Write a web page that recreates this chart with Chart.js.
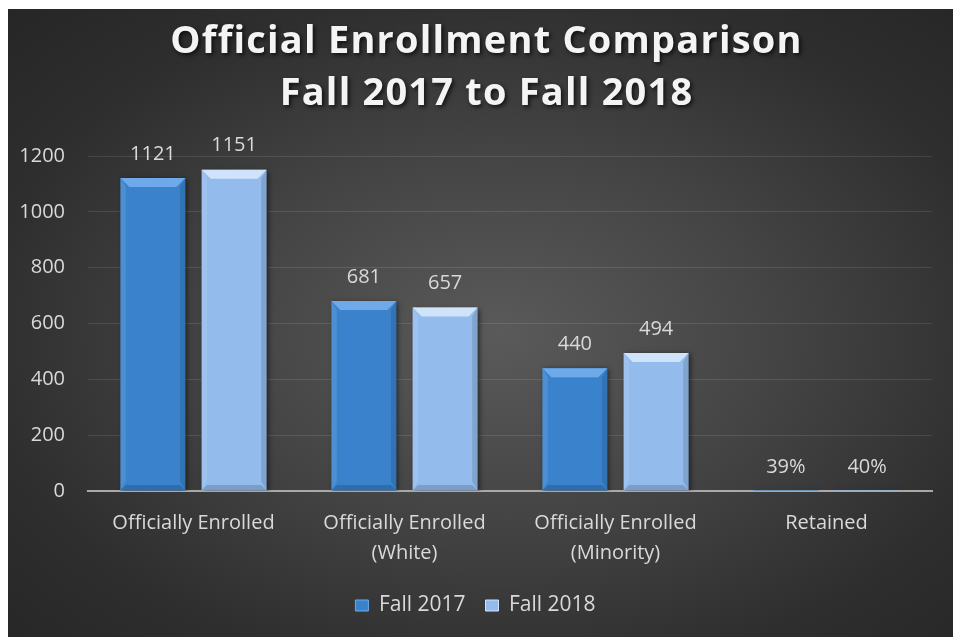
<!DOCTYPE html>
<html>
<head>
<meta charset="utf-8">
<title>Official Enrollment Comparison</title>
<script src="https://cdn.jsdelivr.net/npm/chart.js@4.4.1/dist/chart.umd.min.js"></script>
<style>
  html, body { margin: 0; padding: 0; background: #ffffff; }
  #card {
    position: absolute;
    left: 8px;
    top: 9px;
    width: 945px;
    height: 628px;
    background: radial-gradient(ellipse farthest-corner at 52% 52%, #5a5a5a 0%, #444444 40%, #2e2e2e 75%, #262626 100%);
  }
</style>
</head>
<body>
<div id="card"><canvas id="enrollment"></canvas></div>
<script>
// Chart data
const categories = ['Officially Enrolled', ['Officially Enrolled', '(White)'], ['Officially Enrolled', '(Minority)'], 'Retained'];
const fall2017 = [1121, 681, 440, 0.39];
const fall2018 = [1151, 657, 494, 0.40];
const percentCategories = [3]; // shown as percentages
const titleLines = ['Official Enrollment Comparison', 'Fall 2017 to Fall 2018'];
const yMax = 1200;
const yStep = 200;

const FONT = "'Open Sans', 'DejaVu Sans', sans-serif";
const TEXT = '#d9d9d9';

const formatValue = (value, index) => (percentCategories.includes(index)
  ? `${Math.round(value * 100)}%`
  : `${value}`);

// Title with a soft drop shadow
const titlePlugin = {
  id: 'shadowTitle',
  beforeDraw(chart) {
    const { ctx, width } = chart;
    ctx.save();
    ctx.font = `bold 38px ${FONT}`;
    ctx.letterSpacing = '1.2px';
    ctx.fillStyle = '#f4f4f4';
    ctx.textAlign = 'center';
    ctx.textBaseline = 'middle';
    ctx.shadowColor = 'rgba(0,0,0,0.7)';
    ctx.shadowBlur = 4;
    ctx.shadowOffsetX = 2;
    ctx.shadowOffsetY = 2;
    titleLines.forEach((line, i) => {
      ctx.fillText(line, width / 2 + 6, 33 + i * 52);
    });
    ctx.restore();
  },
};

// Bevelled bars, drop shadow and value labels
const bevelPlugin = {
  id: 'bevelBars',
  beforeDatasetsDraw(chart) {
    const { ctx } = chart;
    ctx.save();
    ctx.shadowColor = 'rgba(0,0,0,0.55)';
    ctx.shadowBlur = 5;
    ctx.shadowOffsetX = 2;
    ctx.shadowOffsetY = 1;
  },
  afterDatasetsDraw(chart) {
    const { ctx } = chart;
    ctx.restore();
    chart.data.datasets.forEach((ds, di) => {
      const meta = chart.getDatasetMeta(di);
      meta.data.forEach((bar, i) => {
        const { x, y, base, width } = bar.getProps(['x', 'y', 'base', 'width'], true);
        const l = x - width / 2;
        const r = x + width / 2;
        const h = base - y;
        const b = Math.min(9, h / 2);
        if (b > 0.5) {
          // top face
          ctx.fillStyle = ds.bevelTop;
          ctx.beginPath();
          ctx.moveTo(l, y); ctx.lineTo(r, y); ctx.lineTo(r - b, y + b); ctx.lineTo(l + b, y + b);
          ctx.closePath(); ctx.fill();
          // left face
          ctx.fillStyle = 'rgba(255,255,255,0.10)';
          ctx.beginPath();
          ctx.moveTo(l, y); ctx.lineTo(l + b * 0.6, y + b); ctx.lineTo(l + b * 0.6, base - b); ctx.lineTo(l, base);
          ctx.closePath(); ctx.fill();
          // right face
          ctx.fillStyle = 'rgba(0,0,0,0.12)';
          ctx.beginPath();
          ctx.moveTo(r, y); ctx.lineTo(r - b * 0.6, y + b); ctx.lineTo(r - b * 0.6, base - b); ctx.lineTo(r, base);
          ctx.closePath(); ctx.fill();
          // bottom face
          ctx.fillStyle = 'rgba(0,0,0,0.16)';
          ctx.beginPath();
          ctx.moveTo(l, base); ctx.lineTo(r, base); ctx.lineTo(r - b * 0.6, base - b * 0.6); ctx.lineTo(l + b * 0.6, base - b * 0.6);
          ctx.closePath(); ctx.fill();
        }
        // value label
        ctx.save();
        ctx.font = `20px ${FONT}`;
        ctx.fillStyle = TEXT;
        ctx.textAlign = 'center';
        ctx.textBaseline = 'middle';
        ctx.fillText(formatValue(ds.data[i], i), x, y - 24);
        ctx.restore();
      });
    });
  },
};

const ctx = document.getElementById('enrollment');
// eslint-disable-next-line no-unused-vars
const chart = new Chart(ctx, {
  type: 'bar',
  data: {
    labels: categories,
    datasets: [
      {
        label: 'Fall 2017',
        data: fall2017,
        backgroundColor: '#3a83cc',
        bevelTop: '#6eaaea',
        barPercentage: 0.8,
        categoryPercentage: 0.77,
      },
      {
        label: 'Fall 2018',
        data: fall2018,
        backgroundColor: '#93bbec',
        bevelTop: '#cfe3fb',
        barPercentage: 0.8,
        categoryPercentage: 0.77,
      },
    ],
  },
  options: {
    responsive: true,
    maintainAspectRatio: false,
    animation: false,
    layout: {
      padding: { top: 147, left: 11, right: 21, bottom: 11 },
    },
    scales: {
      y: {
        min: 0,
        max: yMax,
        border: { display: false },
        grid: {
          drawTicks: false,
          color: (c) => (c.tick && c.tick.value === 0 ? 'rgba(0,0,0,0)' : 'rgba(255,255,255,0.11)'),
          lineWidth: 1,
        },
        ticks: {
          stepSize: yStep,
          padding: 23,
          color: TEXT,
          font: { family: FONT, size: 20 },
          callback: (value) => `${value}`,
        },
        afterFit: (scale) => { scale.width = 69; },
      },
      x: {
        grid: { display: false, drawTicks: false },
        border: { display: true, color: '#a9a9a9', width: 2 },
        ticks: {
          padding: 17,
          color: TEXT,
          maxRotation: 0,
          autoSkip: false,
          font: { family: FONT, size: 20, lineHeight: 1.5 },
        },
        afterFit: (scale) => { scale.height = 84; },
      },
    },
    plugins: {
      legend: {
        position: 'bottom',
        labels: {
          color: TEXT,
          boxWidth: 13,
          boxHeight: 11,
          padding: 20,
          font: { family: FONT, size: 21 },
          generateLabels: (c) => c.data.datasets.map((ds, i) => ({
            text: ds.label,
            fillStyle: ds.backgroundColor,
            strokeStyle: ds.bevelTop,
            lineWidth: 1,
            fontColor: TEXT,
            datasetIndex: i,
            hidden: false,
          })),
        },
      },
      title: { display: false },
      tooltip: { enabled: false },
    },
  },
  plugins: [titlePlugin, bevelPlugin],
});
</script>
</body>
</html>
